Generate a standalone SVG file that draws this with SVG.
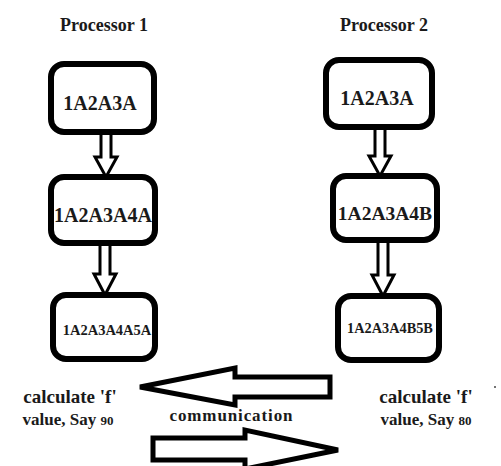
<svg xmlns="http://www.w3.org/2000/svg" width="501" height="466" viewBox="0 0 501 466">
<style>
text{font-family:"Liberation Serif","Times New Roman",serif;font-weight:bold;fill:#1a1a1a}
.box{fill:#fff;stroke:#000;stroke-width:6}
.conn{fill:#fff;stroke:#000;stroke-width:3;stroke-linejoin:miter}
.big{fill:#fff;stroke:#000;stroke-width:5;stroke-linejoin:miter}
.t{text-anchor:middle}
</style>
<rect width="501" height="466" fill="#fff"/>
<text class="t" x="104" y="31" font-size="18">Processor 1</text>
<text class="t" x="384" y="31" font-size="18">Processor 2</text>
<g id="connectors">
<path class="conn" d="M101,132 L111,132 L111,157 L117,157 L106,177 L95,157 L101,157 Z"/>
<path class="conn" d="M100,243 L110,243 L110,274 L116,274 L105,295 L94,274 L100,274 Z"/>
<path class="conn" d="M375,127 L385,127 L385,156 L391,156 L380,176 L369,156 L375,156 Z"/>
<path class="conn" d="M378,240 L388,240 L388,275 L394,275 L383,296 L372,275 L378,275 Z"/>
<path class="big" d="M140,387 L235,368 L235,377 L330,377 L330,397 L235,397 L235,405 Z"/>
<path class="big" d="M153,438 L245,438 L245,430 L338,450 L245,469 L245,460 L153,460 Z"/>
</g>
<g id="p1n1"><rect class="box" x="51" y="64" width="103" height="68" rx="13"/><text class="t" x="100" y="110" font-size="20">1A2A3A</text></g>
<g id="p1n2"><rect class="box" x="51" y="177" width="104" height="66" rx="13"/><text class="t" x="103" y="222" font-size="20">1A2A3A4A</text></g>
<g id="p1n3"><rect class="box" x="53" y="295" width="102" height="64" rx="13"/><text class="t" x="107" y="335" font-size="14.5">1A2A3A4A5A</text></g>
<g id="p2n1"><rect class="box" x="326" y="60" width="106" height="67" rx="13"/><text class="t" x="377" y="105" font-size="20">1A2A3A</text></g>
<g id="p2n2"><rect class="box" x="333" y="176" width="104" height="64" rx="13"/><text class="t" x="385" y="220" font-size="19.5">1A2A3A4B</text></g>
<g id="p2n3"><rect class="box" x="338" y="296" width="101" height="64" rx="13"/><text class="t" x="390" y="333" font-size="14.3">1A2A3A4B5B</text></g>
<g id="labels">
<text class="t" x="70" y="403" font-size="19">calculate 'f'</text>
<text class="t" x="68" y="425" font-size="17">value, Say <tspan font-size="13">90</tspan></text>
<text class="t" x="231" y="421" font-size="17" textLength="123" lengthAdjust="spacing">communication</text>
<text class="t" x="426" y="403" font-size="19">calculate 'f'</text>
<text class="t" x="426" y="425" font-size="17">value, Say  <tspan font-size="13">80</tspan></text>
<circle cx="495" cy="387" r="1" fill="#444"/>
</g>
</svg>
